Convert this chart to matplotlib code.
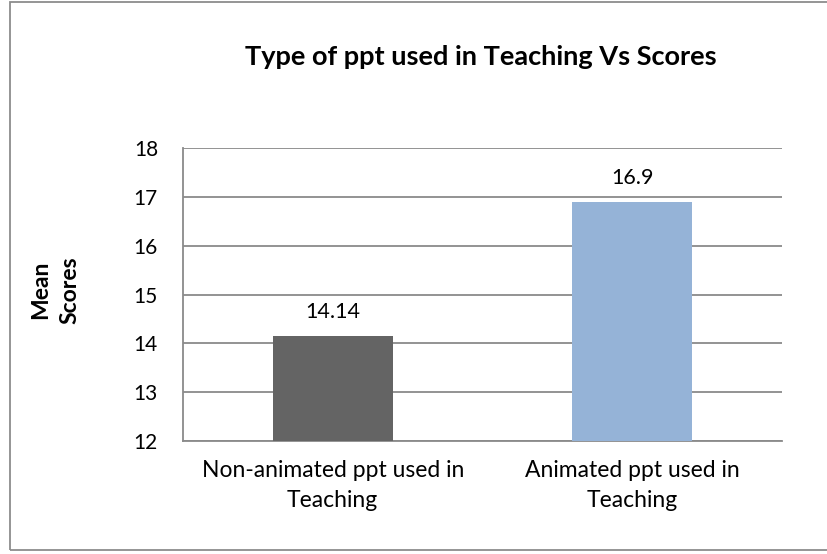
import matplotlib
matplotlib.use("Agg")
import matplotlib.pyplot as plt
from matplotlib.patches import Rectangle

categories = ["Non-animated ppt used in\nTeaching", "Animated ppt used in\nTeaching"]
values = [14.14, 16.9]
value_labels = ["14.14", "16.9"]
colors = ["#646464", "#95B3D7"]
yticks = [12, 13, 14, 15, 16, 17, 18]

plt.rcParams['font.family'] = ['Lato', 'DejaVu Sans']

W, H = 828, 554
fig = plt.figure(figsize=(W/100, H/100), dpi=100)
# outer border (right edge runs off the image)
fig.patches.append(Rectangle((10/W, 1 - 550/H), (840-10)/W, (550-1.5)/H, transform=fig.transFigure,
                             fill=False, edgecolor="#8C8C8C", linewidth=1.3))

left, right, top, bottom = 183, 782, 148, 441
ax = fig.add_axes([left/W, 1 - bottom/H, (right-left)/W, (bottom-top)/H])
x = list(range(len(categories)))
ax.bar(x, [v - 12 for v in values], bottom=12, width=0.4, color=colors, zorder=3)
ax.set_xlim(-0.5, 1.5)
ax.set_ylim(12, 18)
ax.set_yticks(yticks)
ax.set_yticklabels([str(t) for t in yticks], fontsize=15)
ax.set_xticks(x)
ax.set_xticklabels(categories, fontsize=16.5, linespacing=1.5)
ax.tick_params(axis='both', length=0, colors="black")
ax.tick_params(axis='y', pad=18)
ax.tick_params(axis='x', pad=14)
ax.grid(axis='y', color="#8A8A8A", linewidth=1.3, zorder=0)
for s in ax.spines.values():
    s.set_color("#8A8A8A")
    s.set_linewidth(1.3)
ax.spines['top'].set_visible(False)
ax.spines['right'].set_visible(False)

for xi, v, lab in zip(x, values, value_labels):
    ax.annotate(lab, (xi, v), xytext=(0, 13), textcoords="offset points",
                ha="center", va="baseline", fontsize=15.5)

fig.text(481/W, 1 - 65/H, "Type of ppt used in Teaching Vs Scores", ha="center", va="baseline",
         fontsize=19.5, fontweight="bold")
fig.text(55/W, 1 - 290/H, "Mean\nScores", ha="center", va="center", rotation=90,
         fontsize=16.5, fontweight="bold", linespacing=1.5)

fig.savefig("out.png", dpi=100)
